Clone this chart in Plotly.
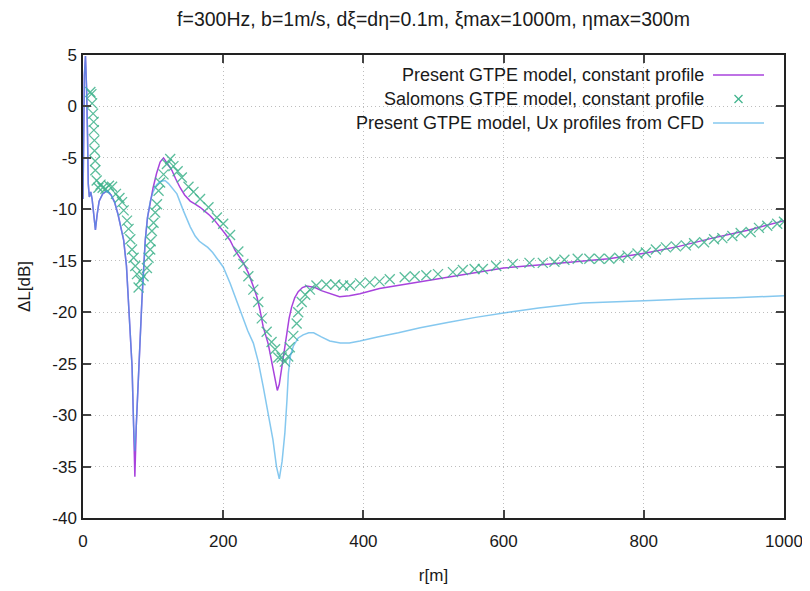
import plotly.graph_objects as go

# ---------------- data ----------------
title_text = "f=300Hz, b=1m/s, dξ=dη=0.1m, ξmax=1000m, ηmax=300m"
legend_names = ["Present GTPE model, constant profile",
                "Salomons GTPE model, constant profile",
                "Present GTPE model, Ux profiles from CFD"]

r_const = [0, 0.8, 2, 3.5, 5, 6.5, 7.5, 9, 11, 13, 15.5, 17.7, 20, 23, 28, 34, 40, 45, 50, 55,
           58, 62, 65, 68, 70, 72.2, 74, 76, 79.3, 84, 86.5, 88.8, 92, 96,
           100, 105, 110, 114.9, 120, 126.8, 132, 138.6, 145, 152.9, 160, 167, 174, 181, 188,
           195.4, 202, 209.7, 217, 228.8, 236, 243, 248, 252.5, 257, 264.3, 269, 274, 277.2,
           280, 283.5, 287, 290.5, 294, 297.6, 302, 307, 313, 319, 325, 331, 340, 352, 366,
           380, 395, 423, 450, 481, 540, 600, 650, 700, 750, 803, 850, 898, 950, 1000]
dB_const = [-9, -2, 3, 4.9, 2, -3, -7.5, -8.8, -8.3, -9.0, -10.5, -12, -10.6, -9.2, -8.5, -8.2, -8.6, -9.3, -10.5, -12.0,
            -13.0, -15.5, -18.9, -22.5, -25.3, -31, -36, -31, -25.3, -18.9, -15.8, -13.0, -10.8, -9.2,
            -7.9, -6.5, -5.4, -5.0, -5.5, -6.2, -7.0, -7.9, -8.6, -9.2, -9.5, -9.8, -10.2, -10.6, -11.1,
            -11.7, -12.3, -13.0, -14.0, -15.2, -16.2, -17.5, -18.5, -19.8, -21.4, -23.1, -24.7, -26.6, -27.6,
            -27.0, -25.3, -23.5, -22.0, -20.6, -19.5, -18.6, -18.0, -17.6, -17.45, -17.5, -17.6, -17.9, -18.2, -18.5,
            -18.4, -18.2, -17.7, -17.4, -17.0, -16.4, -15.7, -15.4, -15.1, -14.8, -14.25, -13.6, -12.8, -12.0, -11.1]

r_salomons = [10.5, 12.0, 13.0, 14.4, 15.2, 15.5, 16.2, 16.5, 17.3, 17.6, 19.5, 22, 25, 28, 32, 37,
              41.5, 47, 52, 55.7, 58, 62.8, 65, 67.5, 69.9, 72.2, 74.6, 77, 79.3, 82, 86.4, 91.2,
              93.5, 95.9, 96.5, 98.3, 100.6, 103, 105.5, 107.8, 110, 114.9, 119.7, 124.4, 129, 135,
              141, 150.5, 157.6, 167, 179, 191, 200, 209.8, 221.6, 228.8, 235.9, 243, 250, 255, 262,
              269, 274, 278.6, 283.4, 288, 292.8, 295, 300, 304.8, 307, 312, 317, 323.7, 333, 347,
              360, 371, 381, 395, 409, 423, 437.6, 458.9, 473.2, 489.8, 506.4, 527.7, 541.9, 558.6,
              570.4, 589.5, 613.2, 636.9, 655.9, 672.5, 686.7, 705.7, 722.3, 736.5, 750.8, 765,
              776.8, 791, 803, 817.2, 831.5, 845.7, 860, 871.7, 886, 900.2, 912, 926.3, 938.2,
              952.4, 964.3, 976.1, 990.3, 999.9]
dB_salomons = [1.4, 1.2, 0.3, -0.7, -1.5, -2.3, -3.3, -4.3, -5.3, -6.2, -7.2, -7.9, -7.6, -7.9, -8.0, -7.7,
               -7.8, -8.5, -8.9, -9.3, -10.1, -11.1, -11.9, -12.9, -13.9, -14.7, -15.5, -16.3, -17.6, -16.9, -16.5, -15.7,
               -14.7, -13.9, -13.1, -12.1, -11.3, -10.3, -9.5, -8.2, -7.4, -6.6, -5.6, -5.1, -5.8, -6.3,
               -6.9, -7.8, -8.3, -9.0, -9.8, -10.8, -11.4, -12.5, -14.1, -15.3, -16.5, -17.8, -19.0, -20.6, -21.9,
               -22.9, -23.6, -24.4, -24.4, -24.8, -24.3, -23.4, -22.3, -21.1, -20.0, -19.0, -18.3, -17.8, -17.4, -17.3,
               -17.3, -17.4, -17.4, -17.2, -17.1, -17.0, -16.8, -16.6, -16.5, -16.4, -16.3, -16.1, -15.9, -15.8,
               -15.8, -15.5, -15.3, -15.2, -15.2, -15.1, -14.9, -14.8, -14.8, -14.8, -14.8, -14.7,
               -14.5, -14.3, -14.2, -13.9, -13.7, -13.6, -13.5, -13.3, -13.2, -12.9, -12.8, -12.6, -12.3,
               -12.2, -11.8, -11.6, -11.4, -11.2]

r_cfd = [0, 0.8, 2, 3.5, 5, 6.5, 7.5, 9, 11, 13, 15.5, 17.7, 20, 23, 28, 34, 40, 45, 50, 55,
         58, 62, 65, 68, 70, 72.2, 74, 76, 79.3, 84, 86.5, 88.8, 92, 96,
         100, 105, 110, 117, 122, 127, 134, 143, 153, 160, 166, 172, 178, 185, 192, 200, 210, 224,
         235, 243, 250, 257, 264, 271, 276, 280, 284, 288, 291, 293, 296, 300, 307, 314, 322, 329,
         340, 352, 367, 380, 395, 420, 450, 481, 520, 560, 607, 650, 713, 760, 810, 870, 930, 1000]
dB_cfd = [-9, -2, 3, 4.9, 2, -3, -7.5, -8.8, -8.3, -9.0, -10.5, -12, -10.6, -9.2, -8.5, -8.2, -8.6, -9.3, -10.5, -12.0,
          -13.0, -15.5, -18.9, -22.5, -25.3, -31, -33.5, -31, -25.3, -18.9, -15.8, -13.0, -10.8, -9.2,
          -8.3, -7.6, -7.3, -7.2, -7.5, -7.9, -8.5, -10.1, -11.7, -12.6, -13.1, -13.4, -13.7, -14.2, -14.9, -15.6, -17.2, -19.8,
          -21.8, -23.0, -24.8, -27.2, -29.8, -32.4, -35.0, -36.2, -34.5, -31.7, -28.5, -25.9, -24.2, -23.3, -22.5, -22.2, -22.0, -22.0,
          -22.4, -22.8, -23.0, -23.0, -22.8, -22.4, -22.0, -21.5, -21.0, -20.5, -20.0, -19.6, -19.1, -18.95, -18.85, -18.7, -18.6, -18.4]

x_ticks = [0, 200, 400, 600, 800, 1000]
y_ticks = [5, 0, -5, -10, -15, -20, -25, -30, -35, -40]
x_tick_labels = ["0", "200", "400", "600", "800", "1000"]
y_tick_labels = ["5", "0", "-5", "-10", "-15", "-20", "-25", "-30", "-35", "-40"]

# ---------------- styling ----------------
PURPLE = "#a843dd"
GREEN = "#3fb38c"
BLUE = "#3ba7e6"
CFD_OPACITY = 0.62
FONT = "Liberation Sans"
TEXT_COLOR = "#1a1a1a"
TICK_FONT = dict(family=FONT, size=17, color=TEXT_COLOR)

# the page body has an 8px margin, so the figure is offset by (8, 8) in the screenshot
OFF = 8
FIG_W, FIG_H = 810 - OFF, 591 - OFF
# target plot area in screenshot pixels
plot_l, plot_r, plot_t, plot_b = 83, 784, 55, 518
pw, ph = plot_r - plot_l, plot_b - plot_t

fig = go.Figure()
fig.add_trace(go.Scatter(x=r_const, y=dB_const, mode="lines", name=legend_names[0],
                         line=dict(color=PURPLE, width=1.5), showlegend=False))
fig.add_trace(go.Scatter(x=r_salomons, y=dB_salomons, mode="markers", name=legend_names[1],
                         marker=dict(symbol="x-thin", size=10, color=GREEN,
                                     line=dict(color=GREEN, width=1.3), opacity=0.85),
                         showlegend=False))
fig.add_trace(go.Scatter(x=r_cfd, y=dB_cfd, mode="lines", name=legend_names[2],
                         line=dict(color=BLUE, width=1.5), opacity=CFD_OPACITY, showlegend=False))

def px2x(px):
    return (px - plot_l) / pw
def py2y(py):
    return (plot_b - py) / ph

# manual gnuplot-style legend (text right-aligned, key on the right)
rows_py = [75, 99, 123]
text_right = 706
key_x0, key_x1 = 713, 764
for i, name in enumerate(legend_names):
    fig.add_annotation(x=px2x(text_right), y=py2y(rows_py[i]), xref="paper", yref="paper",
                       text=name, showarrow=False, xanchor="right", yanchor="middle",
                       font=dict(family=FONT, size=18, color=TEXT_COLOR))
fig.add_shape(type="line", xref="paper", yref="paper", x0=px2x(key_x0), x1=px2x(key_x1),
              y0=py2y(rows_py[0]), y1=py2y(rows_py[0]), line=dict(color=PURPLE, width=1.5))
fig.add_shape(type="line", xref="paper", yref="paper", x0=px2x(key_x0), x1=px2x(key_x1),
              y0=py2y(rows_py[2]), y1=py2y(rows_py[2]), line=dict(color=BLUE, width=1.5),
              opacity=CFD_OPACITY)
mx, my, ms = 738.5, rows_py[1], 4
fig.add_shape(type="line", xref="paper", yref="paper", x0=px2x(mx - ms), x1=px2x(mx + ms),
              y0=py2y(my - ms), y1=py2y(my + ms), line=dict(color=GREEN, width=1.3))
fig.add_shape(type="line", xref="paper", yref="paper", x0=px2x(mx - ms), x1=px2x(mx + ms),
              y0=py2y(my + ms), y1=py2y(my - ms), line=dict(color=GREEN, width=1.3))

axis_common = dict(showline=True, linecolor="#222", linewidth=1.5, mirror="ticks",
                   ticks="inside", ticklen=8, tickwidth=1.5, tickcolor="#444",
                   showgrid=True, gridcolor="#bdbdbd", griddash="1px,3px", gridwidth=1,
                   zeroline=False, tickfont=TICK_FONT, automargin=False)

fig.update_xaxes(range=[0, 1000], tickvals=x_ticks, ticktext=x_tick_labels, ticklabelstandoff=7,
                 title=dict(text="r[m]", font=dict(family=FONT, size=17, color=TEXT_COLOR), standoff=19),
                 **axis_common)
fig.update_yaxes(range=[-40, 5], tickvals=y_ticks, ticktext=y_tick_labels, ticklabelstandoff=1,
                 title=dict(text="ΔL[dB]", font=dict(family=FONT, size=17, color=TEXT_COLOR), standoff=17),
                 **axis_common)

fig.update_layout(
    width=FIG_W, height=FIG_H,
    margin=dict(l=plot_l - OFF, r=810 - plot_r, t=plot_t - OFF, b=591 - plot_b, autoexpand=False),
    paper_bgcolor="white", plot_bgcolor="white",
    title=dict(text=title_text, x=0.5, xref="paper", xanchor="center",
               y=1.0 - 4 / FIG_H, yref="container", yanchor="top", pad=dict(t=0, b=0),
               font=dict(family=FONT, size=19.5, color=TEXT_COLOR)),
)

fig.write_html("out.html")
